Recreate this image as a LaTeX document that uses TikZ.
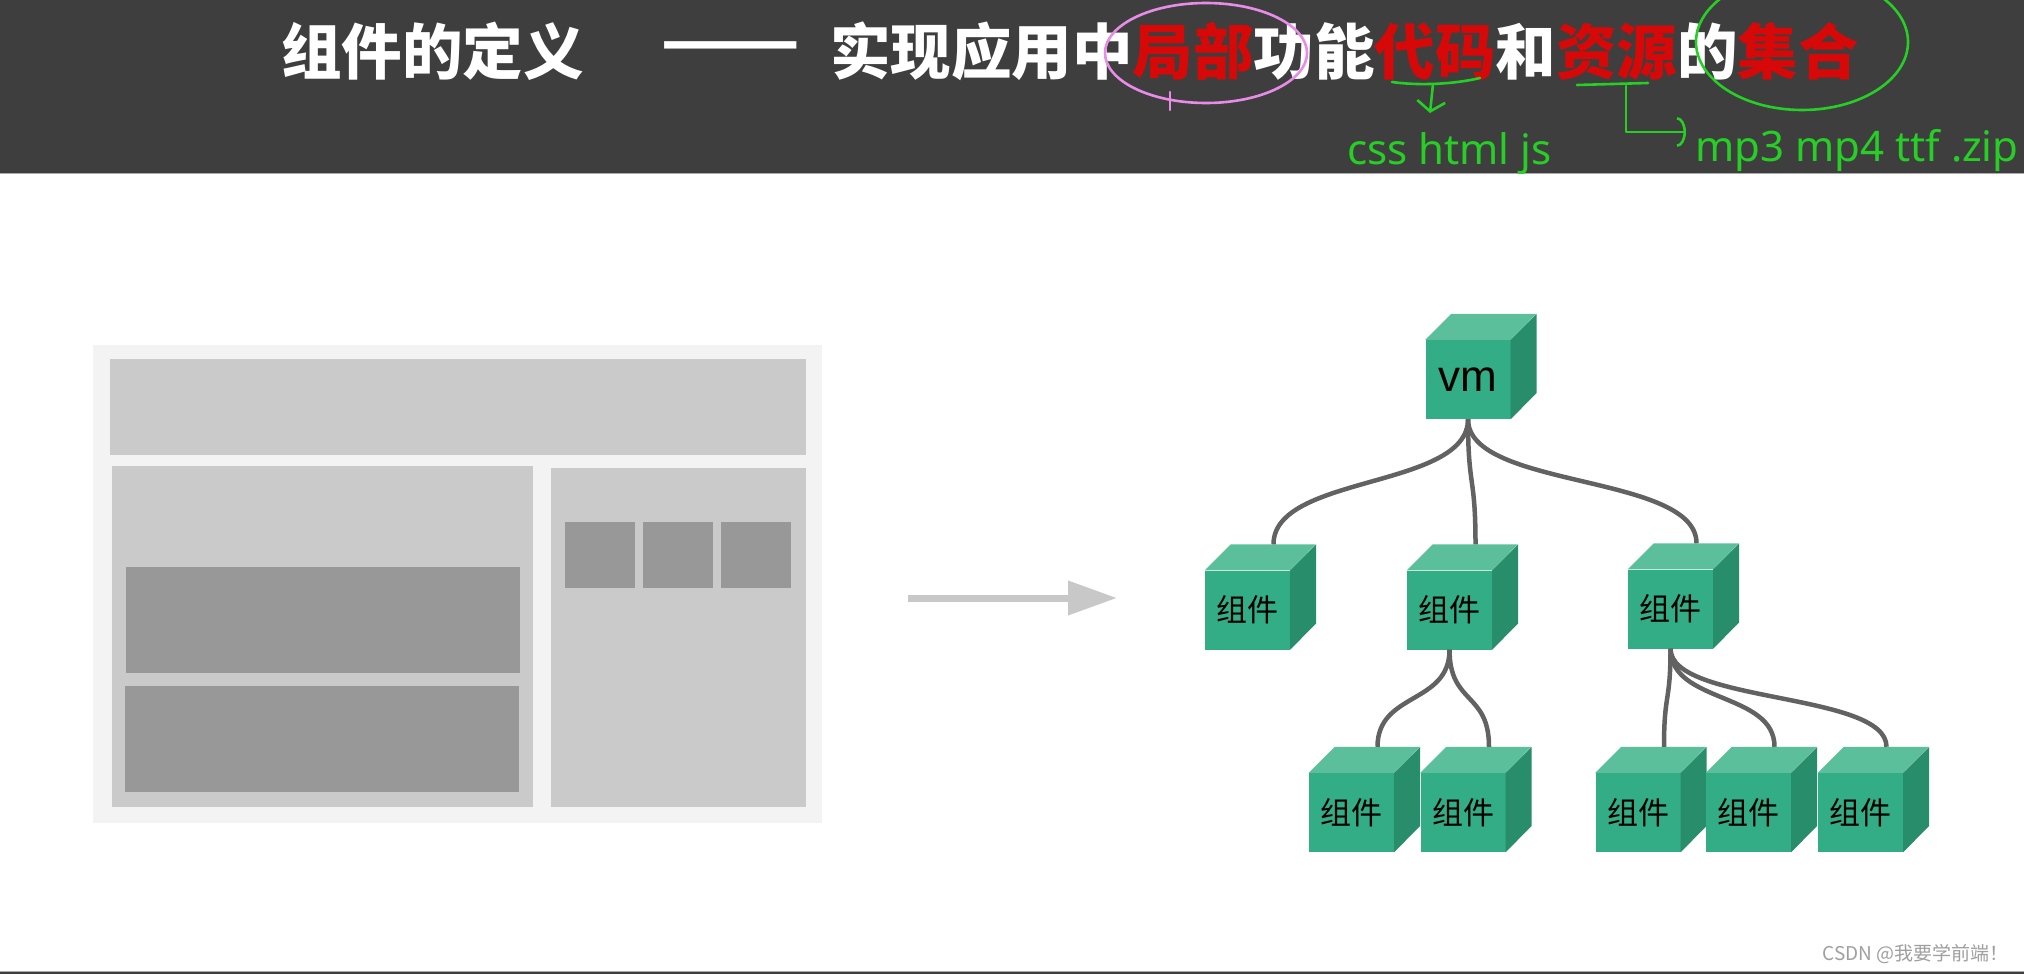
\documentclass[tikz,border=0pt]{standalone}
\usepackage{fontspec}
\usepackage{graphicx}
\newfontfamily\cjk{Noto Sans CJK SC}
\newfontfamily\latinsf{Noto Sans}
\newfontfamily\vmfont{Liberation Sans}
\usetikzlibrary{arrows.meta,calc}

\definecolor{headbg}{RGB}{62,62,62}
\definecolor{edgegray}{RGB}{170,170,170}
\definecolor{titlered}{RGB}{214,8,8}
\definecolor{penpink}{RGB}{232,140,232}
\definecolor{pengreen}{RGB}{38,206,38}
\definecolor{framebg}{RGB}{243,243,243}
\definecolor{paneltone}{RGB}{202,202,202}
\definecolor{blocktone}{RGB}{152,152,152}
\definecolor{arrowgray}{RGB}{200,200,200}
\definecolor{cubeface}{RGB}{50,173,134}
\definecolor{cubetop}{RGB}{92,191,156}
\definecolor{cubeside}{RGB}{40,141,106}
\definecolor{linkgray}{RGB}{98,98,98}

\tikzset{
  cubebox/.style={rectangle,fill=cubeface,minimum width=85pt,minimum height=79pt,inner sep=0pt},
  cjklabel/.style={font=\cjk\fontsize{31}{31}\selectfont},
  titletext/.style={inner sep=0pt,text=white,font=\cjk\bfseries\fontsize{60.5}{60}\selectfont},
  pentext/.style={anchor=base west,inner sep=0pt,text=pengreen,font=\latinsf\fontsize{42}{42}\selectfont},
  link/.style={draw=linkgray,line width=4.5pt},
  pen/.style={line width=2.6pt,line cap=round,line join=round},
}

% name, position, label, label style
\newcommand{\greencube}[4]{%
  \node[cubebox,#4] (#1) at (#2) {#3};
  \fill[cubetop] (#1.north west) -- ++(26,-26) -- ++(85,0) -- (#1.north east) -- cycle;
  \fill[cubeside] (#1.north east) -- ++(26,-26) -- ++(0,79) -- (#1.south east) -- cycle;
  \coordinate (#1-top) at ($(#1.north)+(26,-26)$);
}

\begin{document}
\begin{tikzpicture}[x=1pt,y=-1pt]
    \useasboundingbox (0,0) rectangle (2024,974);
    \clip (0,0) rectangle (2024,974);
    \fill[white] (0,0) rectangle (2024,974);

    % header
    \fill[headbg] (0,0) rectangle (2024,172.5);
    \fill[edgegray] (0,172.5) rectangle (2024,174);
    \node[titletext,anchor=west] (ttl) at (281,51) {组件的定义};
    \node[titletext,font=\cjk\bfseries\fontsize{66}{66}\selectfont] (dash) at (731,53) {\scalebox{1.24}[1]{——}};
    \node[titletext,anchor=west] (def) at (830,51)
      {实现应用中\textcolor{titlered}{局部}功能\textcolor{titlered}{代码}和\textcolor{titlered}{资源}的\textcolor{titlered}{集合}};

    % pen marks
    \draw[pen,penpink] (1206,53) ellipse [x radius=101pt,y radius=50pt];
    \draw[pen,penpink] (1170,92) -- (1170,110);
    \draw[pen,pengreen] (1802,42) ellipse [x radius=106pt,y radius=68pt];

    \node[pentext] (css) at (1347,164) {css html js};
    \node[pentext] (mp) at (1695,161) {mp3 mp4 ttf .zip};

    \coordinate (dmL) at (1392,82);
    \coordinate (dmR) at (1480,78);
    \coordinate (dmA) at (1433,84);
    \coordinate (dmB) at (1430,113);
    \draw[pen,pengreen] (dmL) .. controls (1420,86) and (1455,84) .. (dmR);
    \draw[pen,pengreen,-{Straight Barb[length=10pt,width=28pt]}] (dmA) -- (dmB);

    \coordinate (zyL) at (1577,85);
    \coordinate (zyR) at (1648,83);
    \coordinate (zyA) at (1626,86);
    \coordinate (zyB) at (1686,132);
    \draw[pen,pengreen] (zyL) -- (zyR);
    \draw[pen,pengreen,-{Arc Barb[length=9pt,width=30pt]}] (zyA) |- (zyB);

    % page sketch
    \fill[framebg] (93,345) rectangle (822,823);
    \fill[paneltone] (110,359) rectangle (806,455);
    \fill[paneltone] (112,466) rectangle (533,807);
    \fill[paneltone] (551,468) rectangle (806,807);
    \fill[blocktone] (126,567) rectangle (520,673);
    \fill[blocktone] (125,686) rectangle (519,792);
    \foreach \x in {565,643,721} {
      \fill[blocktone] (\x,522) rectangle ++(70,66);
    }

    \coordinate (arrS) at (908,598);
    \coordinate (arrE) at (1117,598);
    \draw[arrowgray,line width=7pt,-{Triangle[length=49pt,width=33pt]}] (arrS) -- (arrE);

    % component tree
    \greencube{vm}{1468,379.5}{vm}{font=\vmfont\fontsize{44}{44}\selectfont}
    \foreach \n/\x/\y in {A/1247.5/610,B/1449.5/610,C/1670.5/609,
                          D/1351.5/812.5,E/1463/812.5,F/1638/812.5,G/1748.5/812.5,H/1860.5/812.5} {
      \greencube{\n}{\x,\y}{组件}{cjklabel}
    }
    \foreach \up/\dn in {vm/A,vm/B,vm/C} {
      \draw[link] (\up.south) .. controls +(0,70) and +(0,-70) .. (\dn-top);
    }
    \foreach \up/\dn in {B/D,B/E,C/F,C/G,C/H} {
      \draw[link] (\up.south) .. controls +(0,55) and +(0,-55) .. (\dn-top);
    }

    \node[anchor=east,inner sep=0pt,text=gray!75,font=\cjk\fontsize{19}{19}\selectfont] (wm) at (2009,954) {CSDN @我要学前端！};
    \fill[edgegray] (0,970.5) rectangle (2024,972);
    \fill[headbg] (0,972) rectangle (2024,974);
\end{tikzpicture}
\end{document}
